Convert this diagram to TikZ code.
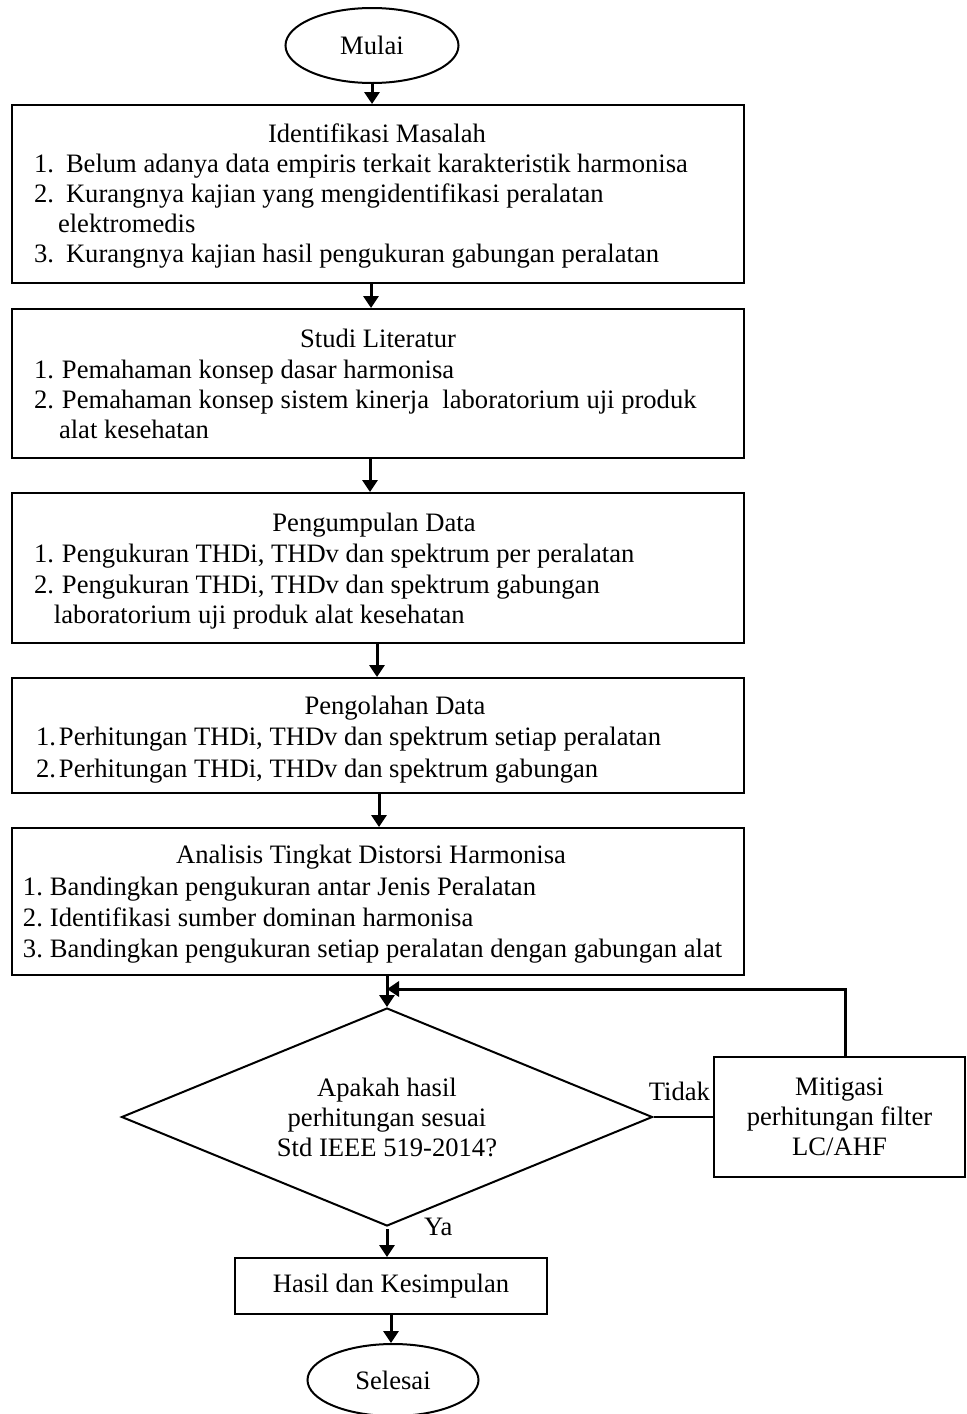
\documentclass[tikz,border=0pt]{standalone}
\usepackage{fontspec}
\setmainfont{Liberation Serif}
\usetikzlibrary{arrows.meta,shapes.geometric}
\newcommand{\nmr}[2]{\makebox[#1][l]{#2}}

\begin{document}
\begin{tikzpicture}[x=0.5pt,y=-0.5pt,>={Triangle[length=6pt,width=7.5pt]},line width=1pt,
  font=\fontsize{13.3}{15}\selectfont,
  kotak/.style={draw,rectangle,minimum width=366pt,inner sep=0pt},
  baris/.style={anchor=base west,inner sep=0pt},
  judul/.style={anchor=base,inner sep=0pt},
  terminal/.style={draw,ellipse,inner sep=0pt},
  panah/.style={->,line width=1.5pt}]
\useasboundingbox (0,0) rectangle (967,1414);

% mulai
\node[terminal,minimum width=86.5pt,minimum height=37.5pt] (mulai) at (372,45.5) {Mulai};

% identifikasi masalah
\node[kotak,minimum height=89pt] (idm) at (378,194) {};
\node[judul] (idm0) at (377,142) {Identifikasi Masalah};
\node[baris] (idm1) at (33,172) {\nmr{16pt}{1.}Belum adanya data empiris terkait karakteristik harmonisa};
\node[baris] (idm2) at (33,202) {\nmr{16pt}{2.}Kurangnya kajian yang mengidentifikasi peralatan};
\node[baris] (idm2b) at (57,232) {elektromedis};
\node[baris] (idm3) at (33,262) {\nmr{16pt}{3.}Kurangnya kajian hasil pengukuran gabungan peralatan};

% studi literatur
\node[kotak,minimum height=74.5pt] (stl) at (378,383.5) {};
\node[judul] (stl0) at (378,347) {Studi Literatur};
\node[baris] (stl1) at (33,378) {\nmr{14pt}{1.}Pemahaman konsep dasar harmonisa};
\node[baris] (stl2) at (33,408) {\nmr{14pt}{2.}Pemahaman konsep sistem kinerja\ \ laboratorium uji produk};
\node[baris] (stl2b) at (58,438) {alat kesehatan};

% pengumpulan data
\node[kotak,minimum height=75pt] (pgd) at (378,568) {};
\node[judul] (pgd0) at (374,531) {Pengumpulan Data};
\node[baris] (pgd1) at (33,562) {\nmr{14pt}{1.}Pengukuran THDi, THDv dan spektrum per peralatan};
\node[baris] (pgd2) at (33,593) {\nmr{14pt}{2.}Pengukuran THDi, THDv dan spektrum gabungan};
\node[baris] (pgd2b) at (53,623) {laboratorium uji produk alat kesehatan};

% pengolahan data
\node[kotak,minimum height=57.5pt] (pld) at (378,735.5) {};
\node[judul] (pld0) at (395,714) {Pengolahan Data};
\node[baris] (pld1) at (35,745) {\nmr{11.5pt}{1.}Perhitungan THDi, THDv dan spektrum setiap peralatan};
\node[baris] (pld2) at (35,777) {\nmr{11.5pt}{2.}Perhitungan THDi, THDv dan spektrum gabungan};

% analisis
\node[kotak,minimum height=73.5pt] (ath) at (378,901.5) {};
\node[judul] (ath0) at (371,863) {Analisis Tingkat Distorsi Harmonisa};
\node[baris] (ath1) at (22,895) {\nmr{13.5pt}{1.}Bandingkan pengukuran antar Jenis Peralatan};
\node[baris] (ath2) at (22,926) {\nmr{13.5pt}{2.}Identifikasi sumber dominan harmonisa};
\node[baris] (ath3) at (22,957) {\nmr{13.5pt}{3.}Bandingkan pengukuran setiap peralatan dengan gabungan alat};

% keputusan
\node[draw,diamond,shape aspect=2.44,minimum width=265.5pt,minimum height=109pt,inner sep=0pt,align=center] (dia) at (387,1117)
  {Apakah hasil\\perhitungan sesuai\\Std IEEE 519-2014?};
\node[draw,rectangle,minimum width=125.5pt,minimum height=60pt,inner sep=0pt,align=center] (mit) at (839.5,1117)
  {Mitigasi\\perhitungan filter\\LC/AHF};
\node[draw,rectangle,minimum width=156pt,minimum height=28pt,inner sep=0pt] (hsl) at (391,1286) {Hasil dan Kesimpulan};

% selesai
\node[terminal,minimum width=85.5pt,minimum height=36pt] (selesai) at (393,1380) {Selesai};

\coordinate (balik) at (387,989);

\draw[panah] (mulai) -- (mulai |- idm.north);
\draw[panah] ([xshift=-3.5pt]idm.south) -- ([xshift=-3.5pt]stl.north);
\draw[panah] ([xshift=-4pt]stl.south) -- ([xshift=-4pt]pgd.north);
\draw[panah] ([xshift=-0.5pt]pgd.south) -- ([xshift=-0.5pt]pld.north);
\draw[panah] ([xshift=0.5pt]pld.south) -- ([xshift=0.5pt]ath.north);
\draw[panah] (ath.south -| dia.north) -- (dia.north);
\draw (dia.east) -- (mit.west);
\draw[panah] ([xshift=3pt]mit.north) |- (balik);
\draw[panah] ([yshift=-1pt]dia.south) -- (dia.south |- hsl.north);
\draw[panah] (hsl.south) -- (hsl.south |- selesai.north);
\node[anchor=base east,inner sep=0pt] (tidak) at (711,1100) {Tidak};
\node[anchor=base west,inner sep=0pt] (ya) at (423,1235) {Ya};
\end{tikzpicture}
\end{document}
